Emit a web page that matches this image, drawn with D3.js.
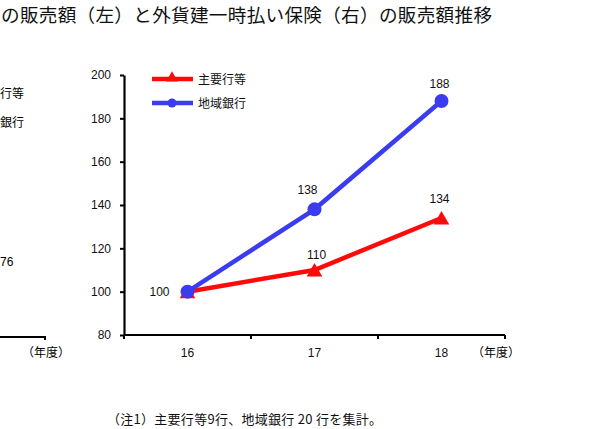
<!DOCTYPE html>
<html>
<head>
<meta charset="utf-8">
<script src="https://cdn.jsdelivr.net/npm/d3@7"></script>
<style>
  body { margin: 0; background: #fff; }
  svg { display: block; }
</style>
</head>
<body>
<svg id="drawing_region"></svg>
<script>
// data
const years = ['16', '17', '18'];
const majorBanks = [100, 110, 134];
const regionalBanks = [100, 138, 188];
const yTicks = [80, 100, 120, 140, 160, 180, 200];
const seriesNames = ['主要行等', '地域銀行'];
const seriesColors = ['#ff0a0a', '#3b3bef'];

const jpFont = '"Noto Sans CJK JP", sans-serif';
const numFont = '"Liberation Sans", Arial, sans-serif';

const width = 599, height = 429;
const margin = {top: 75, right: 94, bottom: 94, left: 124};
const innerW = width - margin.left - margin.right;
const innerH = height - margin.top - margin.bottom;

const svg = d3.select('#drawing_region')
    .attr('width', width)
    .attr('height', height);

// title
svg.append('text')
    .attr('x', 1).attr('y', 22)
    .style('font-family', jpFont)
    .style('font-size', '18.6px')
    .attr('fill', '#111')
    .attr('textLength', 491)
    .text('の販売額（左）と外貨建一時払い保険（右）の販売額推移');

// what is visible of the neighbouring panel at the left edge
const left = svg.append('g');
left.append('text').attr('x', 0).attr('y', 98)
    .style('font-family', jpFont).style('font-size', '12px').text('行等');
left.append('text').attr('x', 0).attr('y', 127)
    .style('font-family', jpFont).style('font-size', '12px').text('銀行');
left.append('text').attr('x', 0).attr('y', 266)
    .style('font-family', numFont).style('font-size', '12px').text('76');
left.append('path').attr('d', 'M0,337H45V340')
    .attr('fill', 'none').attr('stroke', '#000').attr('stroke-width', 2);
left.append('text').attr('x', 22).attr('y', 357)
    .style('font-family', jpFont).style('font-size', '12px').text('（年度）');

const chart = svg.append('g')
    .attr('transform', `translate(${margin.left}, ${margin.top})`);

const x = d3.scaleBand().domain(years).range([0, innerW]);
const y = d3.scaleLinear().domain([80, 200]).range([innerH, 0]);

// y axis
const yAxis = chart.append('g')
    .call(d3.axisLeft(y).tickValues(yTicks).tickSize(4).tickSizeOuter(0));
yAxis.select('.domain').attr('stroke-width', 2.2);
yAxis.selectAll('.tick line').attr('stroke-width', 2);
yAxis.selectAll('.tick text')
    .attr('x', -13)
    .style('font-family', numFont).style('font-size', '12px').attr('fill', '#111');

// x axis with ticks at band boundaries
const xAxis = chart.append('g').attr('transform', `translate(0, ${innerH})`);
xAxis.append('line').attr('x1', 0).attr('x2', innerW)
    .attr('stroke', '#000').attr('stroke-width', 2.2);
const bounds = years.map(d => x(d)).concat([x(years[years.length - 1]) + x.bandwidth()]);
xAxis.selectAll('.bt').data(bounds).join('line')
    .attr('x1', d => d).attr('x2', d => d).attr('y1', 0).attr('y2', 4)
    .attr('stroke', '#000').attr('stroke-width', 2);
xAxis.selectAll('.lbl').data(years).join('text')
    .attr('x', d => x(d) + x.bandwidth() / 2).attr('y', 22)
    .attr('text-anchor', 'middle')
    .style('font-family', numFont).style('font-size', '12px').attr('fill', '#111')
    .text(d => d);
xAxis.append('text').attr('x', innerW - 33).attr('y', 22)
    .style('font-family', jpFont).style('font-size', '12px').text('（年度）');

const cx = d => x(d) + x.bandwidth() / 2;
const line = d3.line().x(d => cx(d.year)).y(d => y(d.value));

const series = [
    {name: seriesNames[0], color: seriesColors[0], marker: 'tri',
     values: years.map((yr, i) => ({year: yr, value: majorBanks[i]}))},
    {name: seriesNames[1], color: seriesColors[1], marker: 'dot',
     values: years.map((yr, i) => ({year: yr, value: regionalBanks[i]}))}
];

const triangle = d3.symbol().type(d3.symbolTriangle).size(105);

series.forEach(s => {
    chart.append('path')
        .datum(s.values)
        .attr('d', line)
        .attr('fill', 'none')
        .attr('stroke', s.color)
        .attr('stroke-width', 4.5);
    if (s.marker === 'tri') {
        chart.selectAll(null).data(s.values).join('path')
            .attr('d', triangle)
            .attr('transform', d => `translate(${cx(d.year)}, ${y(d.value) + 2})`)
            .attr('fill', s.color);
    } else {
        chart.selectAll(null).data(s.values).join('circle')
            .attr('cx', d => cx(d.year)).attr('cy', d => y(d.value))
            .attr('r', 7).attr('fill', s.color);
    }
});

// data labels
const labels = [
    {year: '16', value: majorBanks[0], dx: -28, dy: 4, text: majorBanks[0]},
    {year: '17', value: majorBanks[1], dx: 2, dy: -11, text: majorBanks[1]},
    {year: '18', value: majorBanks[2], dx: -2, dy: -15, text: majorBanks[2]},
    {year: '17', value: regionalBanks[1], dx: -7, dy: -15, text: regionalBanks[1]},
    {year: '18', value: regionalBanks[2], dx: -2, dy: -13, text: regionalBanks[2]}
];
chart.selectAll('.dl').data(labels).join('text')
    .attr('x', d => cx(d.year) + d.dx)
    .attr('y', d => y(d.value) + d.dy)
    .attr('text-anchor', 'middle')
    .style('font-family', numFont).style('font-size', '12px').attr('fill', '#111')
    .text(d => d.text);

// legend
const legend = chart.append('g').attr('transform', 'translate(28, 4)');
series.forEach((s, i) => {
    const g = legend.append('g').attr('transform', `translate(0, ${i * 24})`);
    g.append('line').attr('x1', 0).attr('x2', 41)
        .attr('stroke', s.color).attr('stroke-width', 4.5);
    if (s.marker === 'tri') {
        g.append('path').attr('d', d3.symbol().type(d3.symbolTriangle).size(60))
            .attr('transform', 'translate(20, -1)').attr('fill', s.color);
    } else {
        g.append('circle').attr('cx', 20).attr('r', 4.5).attr('fill', s.color);
    }
    g.append('text').attr('x', 46).attr('y', 5)
        .style('font-family', jpFont).style('font-size', '12px').attr('fill', '#111')
        .text(s.name);
});

// footnote
svg.append('text').attr('x', 107).attr('y', 424)
    .style('font-family', jpFont).style('font-size', '13px').attr('fill', '#111')
    .attr('textLength', 275)
    .text('（注1）主要行等9行、地域銀行 20 行を集計。');
</script>
</body>
</html>
